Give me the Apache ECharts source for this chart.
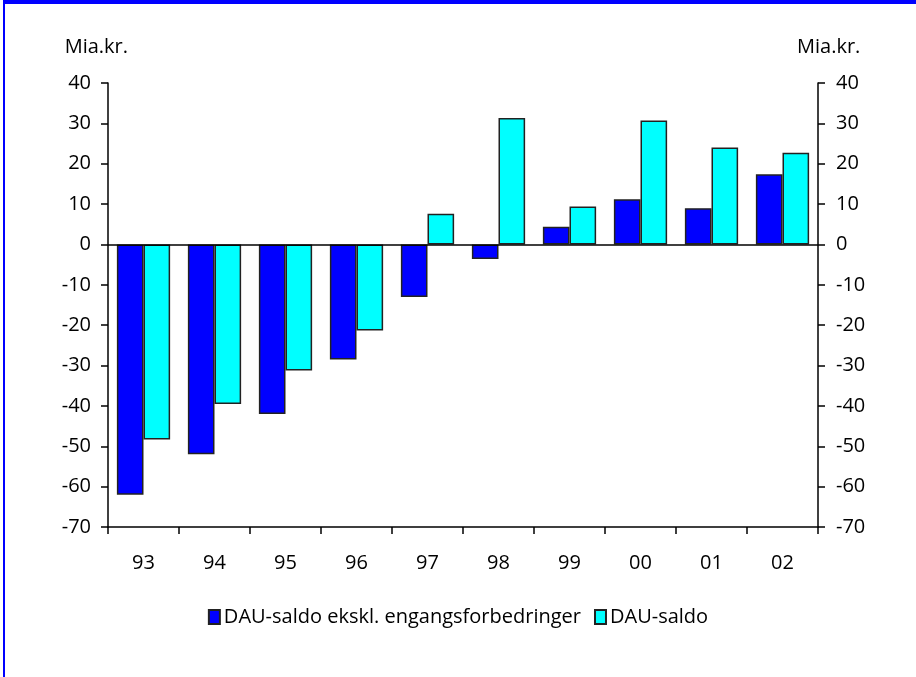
<!DOCTYPE html>
<html>
<head>
<meta charset="utf-8">
<script src="https://cdn.jsdelivr.net/npm/echarts@6/dist/echarts.min.js"></script>
<style>
  html, body { margin: 0; padding: 0; background: #fff; }
  #frame { position: absolute; left: 3px; top: 0; width: 913px; height: 677px;
    border-left: 2px solid #0000ff; border-top: 4px solid #0000ff; box-sizing: border-box; }
  #chart { position: absolute; left: 0; top: 0; width: 916px; height: 677px; }
</style>
</head>
<body>
<div id="frame"></div>
<div id="chart"></div>
<script>
const years = ['93', '94', '95', '96', '97', '98', '99', '00', '01', '02']
const dauExcl = [-62, -52, -42, -28.5, -13, -3.6, 4.4, 11.2, 9, 17.4]
const dau = [-48.3, -39.5, -31.2, -21.3, 7.6, 31.3, 9.4, 30.7, 24, 22.7]
const seriesNames = ['DAU-saldo ekskl. engangsforbedringer', 'DAU-saldo']

const font = 'Open Sans'
const fs = 20
const yAxisBase = {
  type: 'value',
  min: -70,
  max: 40,
  interval: 10,
  name: 'Mia.kr.',
  nameGap: 26,
  axisLine: { show: true, lineStyle: { color: '#000', width: 1.5 } },
  axisTick: { show: true, length: 7, lineStyle: { color: '#000', width: 1.5 } },
  splitLine: { show: false },
}

const chart = echarts.init(document.getElementById('chart'))
chart.setOption({
  animation: false,
  grid: { left: 108, right: 98, top: 83, bottom: 150 },
  legend: {
    bottom: 45,
    left: 'center',
    icon: 'rect',
    itemWidth: 11,
    itemHeight: 14,
    itemGap: 13,
    textStyle: { color: '#000', fontSize: fs, fontFamily: font, padding: [0, 0, 0, -1] },
    data: seriesNames,
  },
  xAxis: {
    type: 'category',
    data: years,
    axisLine: { onZero: false, lineStyle: { color: '#000', width: 1.5 } },
    axisTick: { show: true, length: 7, lineStyle: { color: '#000', width: 1.5 } },
    axisLabel: { color: '#000', fontSize: fs, fontFamily: font, margin: 26 },
  },
  yAxis: [
    Object.assign({}, yAxisBase, {
      position: 'left',
      nameTextStyle: { color: '#000', fontSize: fs, fontFamily: font, align: 'right', padding: [0, -20, 0, 0] },
      axisLabel: { color: '#000', fontSize: fs, fontFamily: font, margin: 17 },
    }),
    Object.assign({}, yAxisBase, {
      position: 'right',
      nameTextStyle: { color: '#000', fontSize: fs, fontFamily: font, align: 'left', padding: [0, 0, 0, -21] },
      axisLabel: { color: '#000', fontSize: fs, fontFamily: font, margin: 18 },
    }),
  ],
  series: [
    {
      name: seriesNames[0],
      type: 'bar',
      data: dauExcl,
      barGap: '0%',
      barCategoryGap: '25%',
      itemStyle: { color: '#0000ff', borderColor: '#222', borderWidth: 1.5 },
      markLine: {
        silent: true,
        symbol: ['none', 'none'],
        label: { show: false },
        lineStyle: { type: 'solid', color: '#000', width: 1.5 },
        data: [{ yAxis: 0 }],
      },
    },
    {
      name: seriesNames[1],
      type: 'bar',
      data: dau,
      itemStyle: { color: '#00ffff', borderColor: '#222', borderWidth: 1.5 },
    },
  ],
})
</script>
</body>
</html>
